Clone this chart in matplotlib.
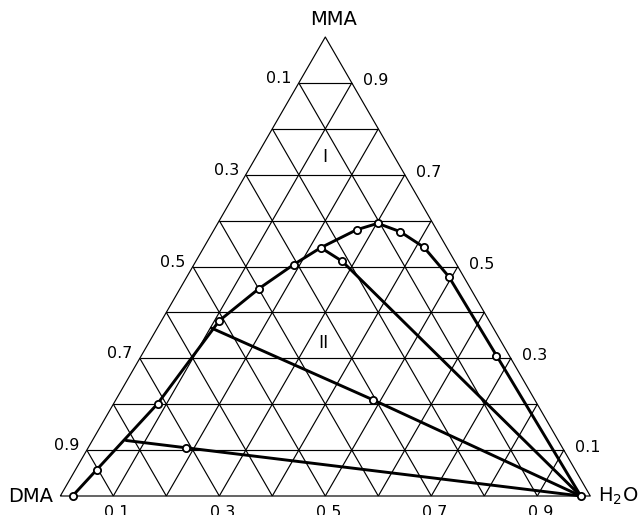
import numpy as np
import matplotlib
matplotlib.use("Agg")
import matplotlib.pyplot as plt

# Ternary system DMA - MMA - H2O (mass fractions); DMA = 1 - MMA - H2O
# Binodal curve, from the DMA corner over the plait region to the H2O corner
binodal_h2o = [0.023, 0.040, 0.083, 0.109, 0.149, 0.188, 0.221, 0.269,
               0.302, 0.353, 0.415, 0.494, 0.670, 0.982]
binodal_mma = [0.000, 0.057, 0.201, 0.382, 0.452, 0.504, 0.541, 0.580,
               0.594, 0.576, 0.542, 0.478, 0.306, 0.000]

# Tie lines: start on the left branch, measured mixture, end at the water-rich phase
tie_start_h2o = [0.0635, 0.102, 0.221]
tie_start_mma = [0.121, 0.366, 0.541]
tie_mid_h2o = [0.185, 0.485, 0.276]
tie_mid_mma = [0.105, 0.2096, 0.5115]
tie_end_h2o = [0.982, 0.982, 0.982]
tie_end_mma = [0.0, 0.0, 0.0]

# Region labels
region_labels = ["I", "II"]
region_h2o = [0.130, 0.330]
region_mma = [0.739, 0.334]

# Axis tick values
tick_values = [0.1, 0.3, 0.5, 0.7, 0.9]
grid_steps = np.arange(1, 10) / 10.0

S3 = np.sqrt(3) / 2


def to_xy(h2o, mma):
    h2o = np.asarray(h2o, dtype=float)
    mma = np.asarray(mma, dtype=float)
    return h2o + mma / 2.0, mma * S3


fig = plt.figure(figsize=(6.39, 5.15), dpi=100)
ax = fig.add_axes([0, 0, 1, 1])
ax.set_xlim(-0.1138, 1.0919)
ax.set_ylim(-0.03585, 0.93585)
ax.axis("off")

grid_kw = dict(color="black", lw=0.85, zorder=1, solid_capstyle="butt")

# Triangle outline
ox, oy = to_xy([0, 1, 0, 0], [0, 0, 1, 0])
ax.plot(ox, oy, **grid_kw)

# Grid lines at 0.1 intervals
for v in grid_steps:
    # constant MMA
    x, y = to_xy([0, 1 - v], [v, v])
    ax.plot(x, y, **grid_kw)
    # constant H2O
    x, y = to_xy([v, v], [0, 1 - v])
    ax.plot(x, y, **grid_kw)
    # constant DMA
    x, y = to_xy([1 - v, 0], [0, 1 - v])
    ax.plot(x, y, **grid_kw)

line_kw = dict(color="black", lw=2.1, zorder=3, solid_joinstyle="round",
               solid_capstyle="round")
mark_kw = dict(marker="o", ms=5.2, mfc="white", mec="black", mew=1.3,
               ls="none", zorder=5)

# Binodal curve
bx, by = to_xy(binodal_h2o, binodal_mma)
ax.plot(bx, by, **line_kw)
ax.plot(bx, by, **mark_kw)

# Tie lines
for i in range(len(tie_start_h2o)):
    tx, ty = to_xy([tie_start_h2o[i], tie_mid_h2o[i], tie_end_h2o[i]],
                   [tie_start_mma[i], tie_mid_mma[i], tie_end_mma[i]])
    ax.plot(tx, ty, **line_kw)
mx, my = to_xy(tie_mid_h2o, tie_mid_mma)
ax.plot(mx, my, **mark_kw)

tick_font = dict(fontsize=11.5, family="DejaVu Sans", color="black")

# Left side: DMA fraction
for d in tick_values:
    x, y = to_xy(0.0, 1 - d)
    ax.annotate(f"{d:.1f}", (x, y), xytext=(-7, 0), textcoords="offset pixels",
                ha="right", va="baseline", **tick_font)

# Right side: MMA fraction
for m in tick_values:
    x, y = to_xy(1 - m, m)
    ax.annotate(f"{m:.1f}", (x, y), xytext=(11, 2.5), textcoords="offset pixels",
                ha="left", va="center", **tick_font)

# Bottom: H2O fraction
for h in tick_values:
    x, y = to_xy(h, 0.0)
    ax.annotate(f"{h:.1f}", (x, y), xytext=(3, -9), textcoords="offset pixels",
                ha="center", va="top", annotation_clip=False, **tick_font)

# Corner component names
name_font = dict(fontsize=14, family="DejaVu Sans", color="black")
x, y = to_xy(0.0, 1.0)
ax.annotate("MMA", (x, y), xytext=(8, 18), textcoords="offset pixels",
            ha="center", va="center", **name_font)
x, y = to_xy(0.0, 0.0)
ax.annotate("DMA", (x, y), xytext=(-7, -1), textcoords="offset pixels",
            ha="right", va="center", **name_font)
x, y = to_xy(1.0, 0.0)
ax.annotate("H$_2$O", (x, y), xytext=(8, 0), textcoords="offset pixels",
            ha="left", va="center", **name_font)

# Region labels
for lab, h, m in zip(region_labels, region_h2o, region_mma):
    x, y = to_xy(h, m)
    ax.text(x, y, lab, ha="center", va="center", fontsize=12.5,
            family="DejaVu Sans", zorder=4)

fig.savefig("out.png", dpi=100)
